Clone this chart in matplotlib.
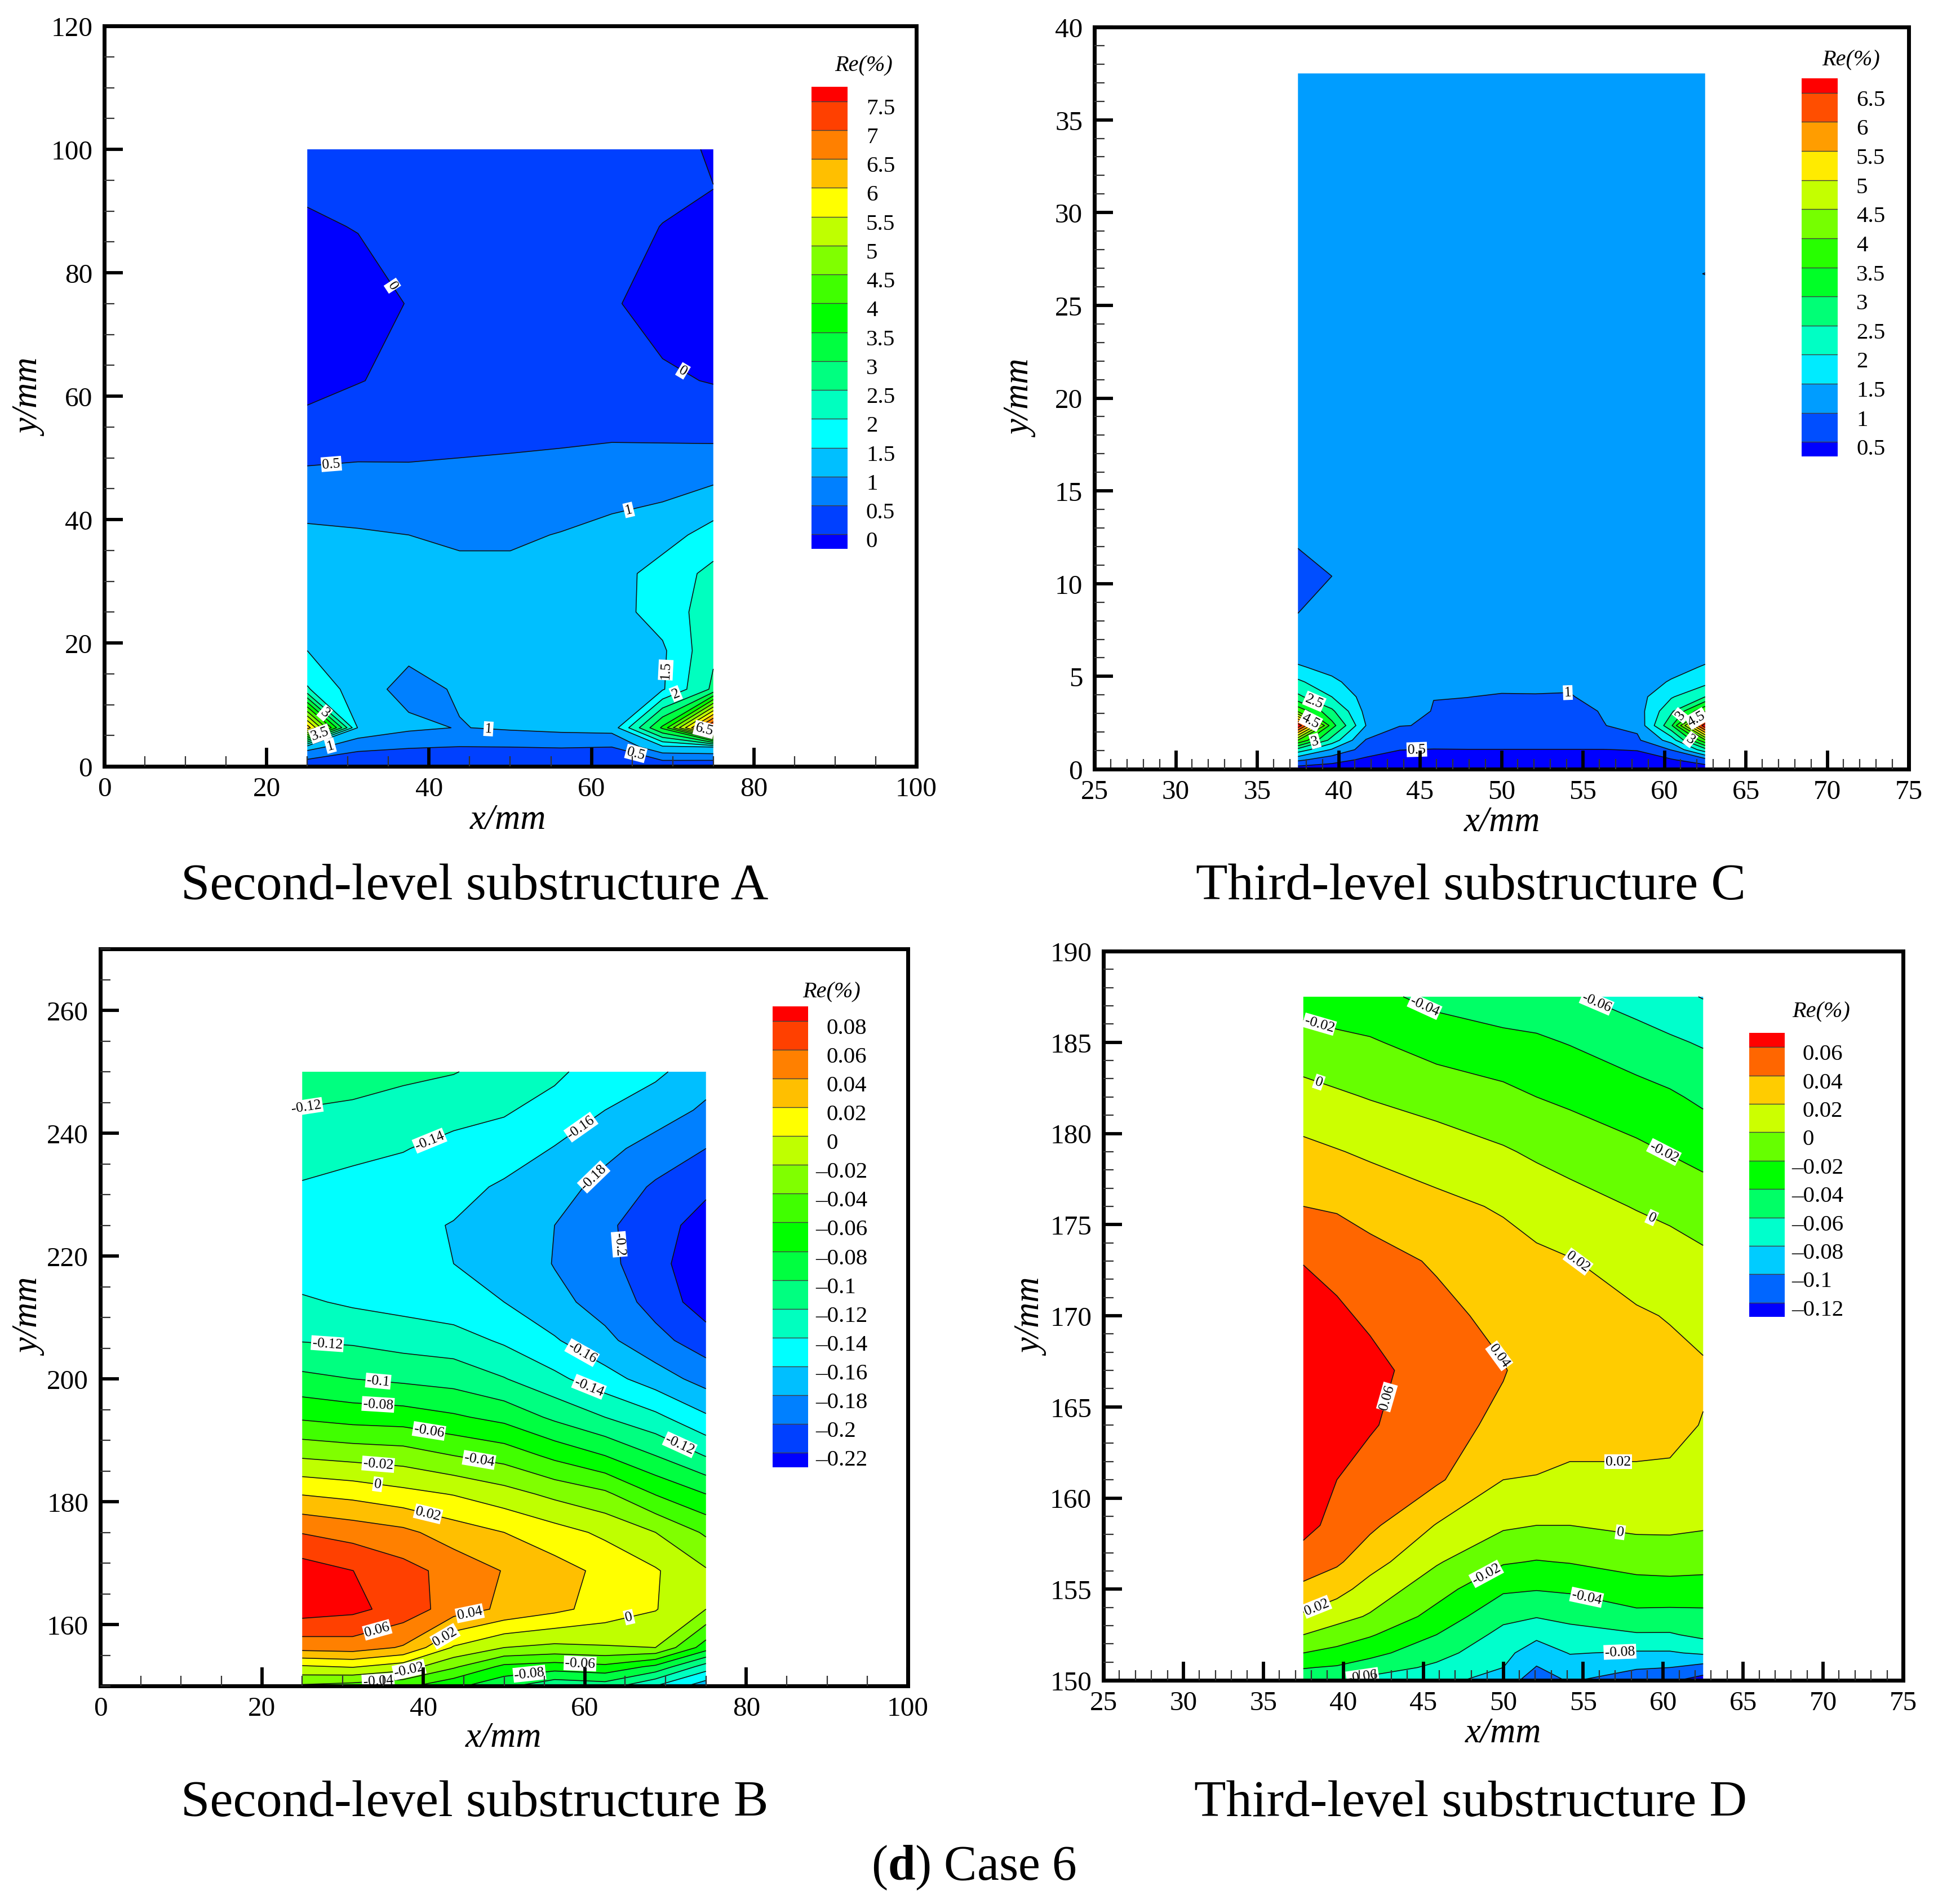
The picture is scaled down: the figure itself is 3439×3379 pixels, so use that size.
import numpy as np
import matplotlib
matplotlib.use("Agg")
import matplotlib.pyplot as plt
from matplotlib.ticker import MultipleLocator, FormatStrFormatter

plt.rcParams['font.family'] = ['Liberation Serif', 'DejaVu Serif']
plt.rcParams['mathtext.fontset'] = 'custom'
plt.rcParams['mathtext.rm'] = 'Liberation Serif'
plt.rcParams['mathtext.bf'] = 'Liberation Serif:bold'
W, H = 3439, 3380

# ---- Panel A
a_x = [25, 31.25, 37.5, 43.75, 50, 56.25, 62.5, 68.75, 75]
a_y = [0, 3.125, 6.25, 12.5, 18.75, 25, 31.25, 37.5, 50, 62.5, 75, 87.5, 93.75, 100]
a_z = [
    [.1, .1, .1, .1, .1, .1, .1, .1, .05],
    [1.2, .62, .53, .49, .5, .52, .5, 1.4, 1.5],
    [6.3, 1.45, 1.1, .98, 1.07, 1.15, 1.2, 3.6, 7.8],
    [2.05, 1.2, .85, 1.05, 1.2, 1.25, 1.3, 1.45, 2.6],
    [1.5, 1.25, 1.1, 1.2, 1.25, 1.3, 1.35, 1.42, 2.41],
    [1.35, 1.3, 1.3, 1.3, 1.3, 1.3, 1.3, 1.72, 2.26],
    [1.25, 1.2, 1.15, 1.1, 1.1, 1.15, 1.3, 1.7, 2.14],
    [1.1, 1.05, 1, .93, .93, 1.02, 1.15, 1.3, 1.7],
    [.43, .47, .47, .5, .52, .55, .6, .6, .62],
    [-.2, -.02, .12, .18, .18, .15, .1, .08, -.03],
    [-.5, -.3, .03, .2, .2, .15, .05, -.2, -.5],
    [-.1, .03, .12, .2, .2, .2, .15, -.01, -.15],
    [.1, .15, .2, .2, .2, .2, .2, .1, .005],
    [.2, .2, .2, .2, .2, .2, .2, .15, -.05],
]
a_levels = [0, .5, 1, 1.5, 2, 2.5, 3, 3.5, 4, 4.5, 5, 5.5, 6, 6.5, 7, 7.5]
a_legend = ['0', '0.5', '1', '1.5', '2', '2.5', '3', '3.5', '4', '4.5', '5', '5.5', '6', '6.5', '7', '7.5']
a_labels = [(0, 35.6, 78), (0, 71.4, 64.4), (.5, 28, 48.4), (1, 64.4, 42.6), (1.5, 69.4, 15.6),
            (2, 70.5, 11.4), (6.5, 73.8, 5.6), (3, 27.1, 8.6), (3.5, 26.8, 4.4), (1, 28, 2.6),
            (1, 47.3, 5.8), (.5, 65.4, 1.8)]

# ---- Panel C
c_x = [37.5, 39.58, 41.67, 43.75, 45.83, 47.92, 50, 52.08, 54.17, 56.25, 58.33, 60.42, 62.5]
c_y = [0, .5, 1.05, 1.56, 2.35, 3.125, 3.9, 4.7, 5.5, 6.25, 8.4, 10.4, 11.9, 26, 26.7, 27.4, 37.5]
c_z = [
    [.2, .2, .2, .2, .2, .2, .2, .2, .2, .2, .2, .2, .2],
    [1.1, .7, .4, .3, .28, .28, .28, .28, .28, .28, .33, .45, .8],
    [2.3, 1.45, .78, .51, .48, .49, .49, .49, .49, .49, .52, 1.02, 2.3],
    [4.0, 2.3, .97, .8, .76, .75, .75, .75, .75, .76, .92, 1.7, 3.9],
    [6.9, 3.2, 1.5, 1.01, .98, .82, .8, .8, .82, .99, 1.1, 2.9, 6.9],
    [3.9, 2.6, 1.36, 1.15, .985, .9, .86, .86, .9, 1.02, 1.25, 2.4, 4.0],
    [2.6, 2.0, 1.3, 1.2, 1.005, 1.005, .97, .98, .98, 1.1, 1.3, 1.95, 2.5],
    [2.1, 1.6, 1.25, 1.2, 1.15, 1.15, 1.1, 1.08, 1.05, 1.15, 1.22, 1.55, 1.85],
    [1.55, 1.35, 1.25, 1.25, 1.25, 1.25, 1.25, 1.25, 1.25, 1.25, 1.25, 1.3, 1.55],
    [1.3, 1.25, 1.25, 1.25, 1.25, 1.25, 1.25, 1.25, 1.25, 1.25, 1.25, 1.25, 1.3],
    [1.0, 1.25, 1.25, 1.25, 1.25, 1.25, 1.25, 1.25, 1.25, 1.25, 1.25, 1.25, 1.25],
    [.8, 1.0, 1.25, 1.25, 1.25, 1.25, 1.25, 1.25, 1.25, 1.25, 1.25, 1.25, 1.25],
    [1.0, 1.25, 1.25, 1.25, 1.25, 1.25, 1.25, 1.25, 1.25, 1.25, 1.25, 1.25, 1.25],
    [1.25, 1.25, 1.25, 1.25, 1.25, 1.25, 1.25, 1.25, 1.25, 1.25, 1.25, 1.25, 1.25],
    [1.25, 1.25, 1.25, 1.25, 1.25, 1.25, 1.25, 1.25, 1.25, 1.25, 1.25, 1.25, .98],
    [1.25, 1.25, 1.25, 1.25, 1.25, 1.25, 1.25, 1.25, 1.25, 1.25, 1.25, 1.25, 1.25],
    [1.25, 1.25, 1.25, 1.25, 1.25, 1.25, 1.25, 1.25, 1.25, 1.25, 1.25, 1.25, 1.25],
]
c_levels = [.5, 1, 1.5, 2, 2.5, 3, 3.5, 4, 4.5, 5, 5.5, 6, 6.5]
c_legend = ['0.5', '1', '1.5', '2', '2.5', '3', '3.5', '4', '4.5', '5', '5.5', '6', '6.5']
c_labels = [(2.5, 38.5, 3.65), (4.5, 38.25, 2.55), (3, 38.6, 1.35), (.5, 44.8, 1.0), (1, 54.07, 4.1),
            (4.5, 61.8, 3), (3, 61.4, 2.6), (3, 61.5, 1.5)]

# ---- Panel B  (one list per x column)
b_x = [25, 31.25, 37.5, 43.75, 50, 56.25, 62.5, 68.75, 75]
b_y = [150, 153.125, 156.25, 162.5, 168.75, 175, 181.25, 187.5, 193.75, 200, 206.25, 212.5, 218.75,
       225, 231.25, 237.5, 243.75, 250]
b_col_25 = [-.043, -.003, .048, .09, .09, .059, .019, -.023, -.063, -.095, -.121, -.137, -.152, -.152, -.142, -.13, -.121, -.107]
b_col_31 = [-.048, .0015, .05, .085, .0802, .052, .014, -.027, -.068, -.10, -.123, -.143, -.152, -.155, -.146, -.135, -.123, -.112]
b_col_37 = [-.055, -.01, .038, .072, .067, .045, .006, -.03, -.07, -.104, -.128, -.147, -.155, -.155, -.149, -.139, -.127, -.116]
b_col_44 = [-.075, -.037, -.002, .05, .053, .03, -.001, -.04, -.077, -.108, -.131, -.153, -.16, -.161, -.153, -.146, -.133, -.119]
b_col_50 = [-.095, -.065, -.02, .036, .039, .02, -.012, -.048, -.086, -.119, -.143, -.16, -.165, -.17, -.163, -.149, -.138, -.128]
b_col_56 = [-.115, -.07, -.025, .025, .028, .008, -.025, -.065, -.104, -.135, -.158, -.174, -.181, -.18, -.172, -.161, -.147, -.136]
b_col_62 = [-.11, -.065, -.022, .012, .015, -.004, -.036, -.08, -.12, -.152, -.175, -.188, -.195, -.196, -.186, -.175, -.16, -.15]
b_col_69 = [-.14, -.085, -.02, .001, .002, -.02, -.061, -.10, -.135, -.17, -.194, -.207, -.211, -.212, -.203, -.187, -.171, -.156]
b_col_75 = [-.172, -.13, -.07, -.02, -.018, -.043, -.08, -.121, -.157, -.188, -.21, -.231, -.24, -.228, -.216, -.2, -.183, -.172]
b_z = np.array([b_col_25, b_col_31, b_col_37, b_col_44, b_col_50, b_col_56, b_col_62, b_col_69, b_col_75]).T
b_levels = [-.22, -.2, -.18, -.16, -.14, -.12, -.1, -.08, -.06, -.04, -.02, 0, .02, .04, .06, .08]
b_legend = ['-0.22', '-0.2', '-0.18', '-0.16', '-0.14', '-0.12', '-0.1', '-0.08', '-0.06', '-0.04', '-0.02', '0', '0.02', '0.04', '0.06', '0.08']
b_labels = [(-.12, 25.6, 243.7), (-.14, 40.7, 239), (-.16, 59.4, 241.2), (-.18, 61, 233), (-.2, 64.2, 221.9),
            (-.12, 28.1, 205.4), (-.16, 59.8, 204.6), (-.14, 60.6, 199), (-.1, 34.4, 199.5), (-.08, 34.4, 195.9),
            (-.06, 40.7, 191.5), (-.04, 46.9, 186.8), (-.12, 71.8, 189.4), (-.02, 34.4, 186), (0, 34.4, 183.3),
            (.02, 40.6, 178.1), (.06, 34.4, 158.6), (.04, 45.8, 161.5), (.02, 43.3, 156.7), (0, 65.6, 160.5),
            (-.02, 38.2, 152.9), (-.04, 34.4, 150.9), (-.08, 53.2, 151.2), (-.06, 59.4, 153.4)]

# ---- Panel D  (one list per x column)
d_x = [37.5, 39.6, 41.67, 45.83, 50, 52.08, 54.17, 58.33, 60.42, 62.5]
d_y = [150, 150.7, 151.5, 152.5, 153.5, 155, 156.5, 158.5, 161, 164, 167, 170, 173, 176, 179, 182, 185, 187.5]
d_col_375 = [-.05, -.039, -.02, 0, .017, .036, .05, .067, .074, .078, .078, .073, .059, .04, .025, .007, -.012, -.028]
d_col_396 = [-.06, -.042, -.026, -.009, .007, .027, .043, .053, .06, .068, .069, .064, .053, .038, .021, .003, -.016, -.03]
d_col_417 = [-.066, -.05, -.034, -.018, -.002, .012, .028, .044, .052, .062, .067, .056, .047, .033, .017, -.001, -.018, -.034]
d_col_458 = [-.073, -.064, -.053, -.04, -.027, -.012, .002, .019, .043, .047, .048, .045, .038, .025, .01, -.008, -.028, -.046]
d_col_500 = [-.09, -.08, -.074, -.066, -.055, -.037, -.018, .003, .02, .036, .041, .035, .028, .018, .002, -.015, -.033, -.055]
d_col_521 = [-.11, -.101, -.091, -.075, -.059, -.039, -.021, 0, .019, .03, .033, .03, .024, .012, -.003, -.02, -.037, -.052]
d_col_542 = [-.098, -.09, -.079, -.067, -.055, -.037, -.019, 0, .0175, .025, .027, .025, .021, .007, -.007, -.024, -.041, -.058]
d_col_583 = [-.112, -.098, -.082, -.062, -.045, -.029, -.012, .004, .018, .024, .026, .022, .012, -.001, -.016, -.032, -.052, -.068]
d_col_604 = [-.117, -.1, -.082, -.062, -.046, -.028, -.011, .004, .016, .026, .025, .019, .009, -.005, -.021, -.037, -.057, -.074]
d_col_625 = [-.128, -.108, -.077, -.055, -.045, -.029, -.012, .002, .011, .019, .023, .012, .004, -.01, -.026, -.044, -.062, -.081]
d_z = np.array([d_col_375, d_col_396, d_col_417, d_col_458, d_col_500, d_col_521, d_col_542, d_col_583, d_col_604, d_col_625]).T
d_levels = [-.12, -.1, -.08, -.06, -.04, -.02, 0, .02, .04, .06]
d_legend = ['-0.12', '-0.1', '-0.08', '-0.06', '-0.04', '-0.02', '0', '0.02', '0.04', '0.06']
d_labels = [(-.04, 45.1, 187), (-.06, 55.8, 187.1), (-.02, 38.5, 186), (0, 38.5, 182.9), (-.02, 60, 178.9),
            (0, 59.4, 175.6), (.02, 54.7, 173), (.04, 49.9, 167.9), (.06, 42.5, 165.6), (0, 57.3, 158),
            (-.02, 48.9, 155.9), (-.04, 55.2, 154.5), (-.08, 57.3, 151.5), (.02, 38.4, 153.9),
            (-.06, 41.2, 150.2), (.02, 57.2, 161.8)]

ANCHORS = [(0, 0, 1), (0, 1, 1), (0, 1, 0), (1, 1, 0), (1, 0, 0)]


def band_colors(n):
    pos = np.linspace(0, 4, n)
    arr = np.array(ANCHORS, dtype=float)
    return [tuple(np.interp(p, range(5), arr[:, k]) for k in range(3)) for p in pos]


def px_axes(fig, l, r, t, b):
    return fig.add_axes([l / W, 1 - b / H, (r - l) / W, (b - t) / H])


def place_label(ax, cs, levels, lv, lx, ly):
    """Put a boxed label on the level's own contour, nearest to (lx, ly), turned along the line."""
    idx = int(np.argmin(np.abs(np.array(levels) - lv)))
    target = ax.transData.transform((lx, ly))
    best = None
    for poly in cs.get_paths()[idx].to_polygons(closed_only=False):
        if len(poly) < 2:
            continue
        p = ax.transData.transform(poly)
        a, b = p[:-1], p[1:]
        d = b - a
        L2 = np.maximum((d ** 2).sum(axis=1), 1e-9)
        t = np.clip(((target - a) * d).sum(axis=1) / L2, 0, 1)
        q = a + d * t[:, None]
        dist = ((q - target) ** 2).sum(axis=1)
        i = int(np.argmin(dist))
        if best is None or dist[i] < best[0]:
            best = (dist[i], q[i], d[i])
    if best is None:
        return
    ang = np.degrees(np.arctan2(best[2][1], best[2][0]))
    if ang > 90:
        ang -= 180
    elif ang < -90:
        ang += 180
    pos = ax.transData.inverted().transform(best[1])
    ax.text(pos[0], pos[1], '%g' % lv, fontsize=18.5, rotation=ang, rotation_mode='anchor',
            ha='center', va='center', color='black', zorder=2.2, clip_on=False,
            bbox=dict(facecolor='white', edgecolor='none', pad=1.5))


def panel(fig, rect, xs, ys, zs, levels, labels, xlim, ylim, xmaj, xmin, ymaj, ymin):
    ax = px_axes(fig, *rect)
    ax.set_axisbelow(False)
    cols = band_colors(len(levels) + 1)
    ax.contourf(xs, ys, zs, levels=[-1e9] + list(levels) + [1e9], colors=cols, antialiased=True, zorder=1)
    cs = ax.contour(xs, ys, zs, levels=levels, colors='#101010', linewidths=1.15, linestyles='solid', zorder=2)
    ax.set_xlim(*xlim)
    ax.set_ylim(*ylim)
    ax.xaxis.set_major_locator(MultipleLocator(xmaj))
    ax.xaxis.set_minor_locator(MultipleLocator(xmin))
    ax.yaxis.set_major_locator(MultipleLocator(ymaj))
    ax.yaxis.set_minor_locator(MultipleLocator(ymin))
    ax.xaxis.set_major_formatter(FormatStrFormatter('%g'))
    ax.yaxis.set_major_formatter(FormatStrFormatter('%g'))
    ax.tick_params(which='major', direction='in', length=23.5, width=4.2, labelsize=35.5, color='black',
                   top=False, right=False)
    ax.tick_params(axis='x', which='major', pad=13)
    ax.tick_params(axis='y', which='major', pad=15)
    ax.tick_params(which='minor', direction='in', length=13, width=1.6, color='#333333', top=False, right=False)
    for s in ax.spines.values():
        s.set_linewidth(5)
    for lv, lx, ly in labels:
        place_label(ax, cs, levels, lv, lx, ly)
    return ax


def legend(fig, rect, levels, names, digit_dx, title_xy):
    ax = px_axes(fig, *rect)
    cols = band_colors(len(levels) + 1)
    step = levels[1] - levels[0]
    edges = [levels[0] - step / 2] + list(levels) + [levels[-1] + step / 2]
    for i, c in enumerate(cols):
        ax.bar(0, edges[i + 1] - edges[i], bottom=edges[i], width=1, color=c, edgecolor='none')
    for lv in levels:
        ax.axhline(lv, color='#404040', lw=1.0)
    ax.set_xlim(-.5, .5)
    ax.set_ylim(edges[0], edges[-1])
    ax.axis('off')
    for lv, nm in zip(levels, names):
        neg = nm.startswith('-')
        txt = ('\u2013' + nm[1:]) if neg else nm
        ax.annotate(txt, xy=(1, lv), xycoords=('axes fraction', 'data'),
                    xytext=(digit_dx - (20 if neg else 0), -12.5), textcoords='offset pixels',
                    ha='left', va='center', fontsize=29.5, annotation_clip=False)
    fig.text(title_xy[0] / W, 1 - title_xy[1] / H, 'Re(%)', style='italic', fontsize=29, ha='center', va='center')


fig = plt.figure(figsize=(W / 100, H / 100), dpi=100, facecolor='white')

panel(fig, (185, 1626, 47, 1361), a_x, a_y, a_z, a_levels, a_labels, (0, 100), (0, 120), 20, 5, 20, 5)
panel(fig, (1942, 3387, 49, 1366), c_x, c_y, c_z, c_levels, c_labels, (25, 75), (0, 40), 5, 1, 5, 1)
panel(fig, (178, 1611, 1685, 2993), b_x, b_y, b_z, b_levels, b_labels, (0, 100), (150, 270), 20, 5, 20, 5)
panel(fig, (1958, 3377, 1689, 2983), d_x, d_y, d_z, d_levels, d_labels, (25, 75), (150, 190), 5, 1, 5, 1)

legend(fig, (1440, 1504, 155, 975), a_levels, a_legend, 33, (1533, 117))
legend(fig, (3197, 3261, 140, 811), c_levels, c_legend, 33, (3285, 107))
legend(fig, (1371, 1434, 1787, 2605), b_levels, b_legend, 33, (1476, 1761))
legend(fig, (3104, 3167, 1834, 2338), d_levels, d_legend, 32, (3232, 1796))

for s, x, y in [('x/mm', 901, 1456), ('x/mm', 2665, 1460), ('x/mm', 893, 3085), ('x/mm', 2667, 3077)]:
    fig.text(x / W, 1 - y / H, s, style='italic', fontsize=45, ha='center', va='center')
for s, x, y in [('y/mm', 55, 706), ('y/mm', 1814, 708), ('y/mm', 55, 2338), ('y/mm', 1833, 2338)]:
    fig.text(x / W, 1 - y / H, s, style='italic', fontsize=45, ha='center', va='center', rotation=90)

for s, x, y in [('Second-level substructure A', 842, 1574), ('Third-level substructure C', 2610, 1574),
                ('Second-level substructure B', 842, 3201), ('Third-level substructure D', 2610, 3201)]:
    fig.text(x / W, 1 - y / H, s, fontsize=66.5, ha='center', va='center')
fig.text(1728 / W, 1 - 3315 / H, r'($\mathbf{d}$) Case 6', fontsize=63, ha='center', va='center')

fig.savefig('out.png', dpi=100, facecolor='white')
